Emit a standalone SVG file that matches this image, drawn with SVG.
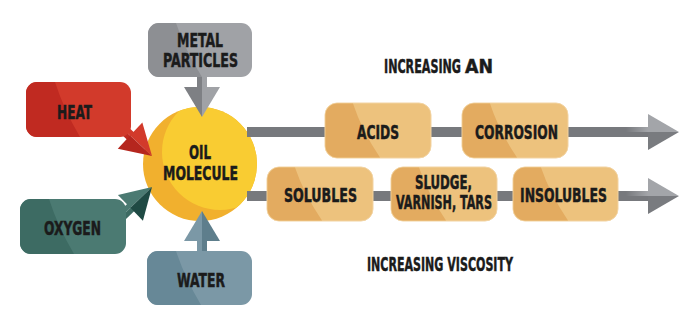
<svg xmlns="http://www.w3.org/2000/svg" width="700" height="328" viewBox="0 0 700 328">
<style>
text{font-family:"DejaVu Sans Condensed","Liberation Sans Narrow","Liberation Sans",sans-serif;font-weight:bold;fill:#1b1b1b;stroke:#1b1b1b;stroke-width:0.5;font-size:20px;text-anchor:middle}
.lbl{text-anchor:start}
.bar{fill:#77797d}
.hl{fill:#a3a5a9}
.hd{fill:#797b7f}
.gl{fill:#a0a2a6}.gd{fill:#8d8f93}.gdd{fill:#7e8084}
.rl{fill:#d23a2b}.rd{fill:#c02a21}.rdd{fill:#b5261e}
.tl{fill:#4b7a72}.td{fill:#3d6b63}.tdd{fill:#1f4a44}
.wl{fill:#7b98a6}.wd{fill:#678897}.wdd{fill:#5e7e8c}
.ol{fill:#edc27d;stroke:#f2d3a2;stroke-width:1}.od{fill:#e3ab60}
</style>
<defs>
<clipPath id="cc"><circle cx="200" cy="164" r="57"/></clipPath>
<linearGradient id="bg" x1="0" x2="1" y1="0" y2="0">
<stop offset="0" stop-color="#77797d"/><stop offset="1" stop-color="#a3a5a9"/>
</linearGradient>
</defs>

<g id="oil-molecule">
<circle cx="200" cy="164" r="57" fill="#f1b02e"/>
<circle cx="220" cy="152" r="58" fill="#f9cc32" clip-path="url(#cc)"/>
<text transform="translate(200,159) scale(0.66,1)" textLength="33.3" lengthAdjust="spacingAndGlyphs">OIL</text>
<text transform="translate(200.5,180) scale(0.77,1)" textLength="97.4" lengthAdjust="spacingAndGlyphs">MOLECULE</text>
</g>

<g id="connectors">
<rect class="bar" x="247" y="127" width="401" height="10"/>
<rect x="626" y="127" width="22" height="5" fill="url(#bg)"/>
<polygon class="hl" points="679,132 648,114 648,132"/>
<polygon class="hd" points="679,132 648,132 648,150"/>
<rect class="bar" x="247" y="191" width="401" height="10"/>
<rect x="626" y="191" width="22" height="5" fill="url(#bg)"/>
<polygon class="hl" points="679,196 648,178 648,196"/>
<polygon class="hd" points="679,196 648,196 648,214"/>

<g transform="translate(152,156) rotate(43)">
<rect class="rl" x="-46" y="-5" width="17" height="5"/>
<rect class="rd" x="-46" y="0" width="17" height="5"/>
<polygon class="rl" points="0,0 -30,-18 -30,0"/>
<polygon class="rdd" points="0,0 -30,0 -30,18"/>
</g>
<g transform="translate(152,187) rotate(-44)">
<rect class="tl" x="-46" y="-5" width="17" height="5"/>
<rect class="td" x="-46" y="0" width="17" height="5"/>
<polygon class="tl" points="0,0 -30,-18 -30,0"/>
<polygon class="tdd" points="0,0 -30,0 -30,18"/>
</g>
<g transform="translate(202,117) rotate(90)">
<rect class="gl" x="-50" y="-5" width="21" height="5"/>
<rect class="gdd" x="-50" y="0" width="21" height="5"/>
<polygon class="gl" points="0,0 -30,-18 -30,0"/>
<polygon class="gdd" points="0,0 -30,0 -30,18"/>
</g>
<g transform="translate(202,211) rotate(-90)">
<rect class="wl" x="-46" y="-5" width="17" height="5"/>
<rect class="wdd" x="-46" y="0" width="17" height="5"/>
<polygon class="wl" points="0,0 -30,-18 -30,0"/>
<polygon class="wdd" points="0,0 -30,0 -30,18"/>
</g>
</g>

<g id="metal-particles">
<rect class="gl" x="148" y="23" width="104" height="54" rx="11"/>
<path class="gd" d="M159,23 L176,23 Q185,50 202,77 L159,77 A11,11 0 0 1 148,66 L148,34 A11,11 0 0 1 159,23 Z"/>
<text transform="translate(200,47) scale(0.68,1)" textLength="67.6" lengthAdjust="spacingAndGlyphs">METAL</text>
<text transform="translate(200.5,67) scale(0.68,1)" textLength="110.3" lengthAdjust="spacingAndGlyphs">PARTICLES</text>
</g>

<g id="heat">
<rect class="rl" x="26" y="82" width="105" height="55" rx="11"/>
<path class="rd" d="M37,82 L55,82 Q64,110 80,137 L37,137 A11,11 0 0 1 26,126 L26,93 A11,11 0 0 1 37,82 Z"/>
<text transform="translate(74.5,119) scale(0.65,1)" textLength="53.8" lengthAdjust="spacingAndGlyphs">HEAT</text>
</g>

<g id="oxygen">
<rect class="tl" x="20" y="199" width="106" height="55" rx="11"/>
<path class="td" d="M31,199 L49,199 Q58,227 74,254 L31,254 A11,11 0 0 1 20,243 L20,210 A11,11 0 0 1 31,199 Z"/>
<text transform="translate(72.5,235) scale(0.68,1)" textLength="83.8" lengthAdjust="spacingAndGlyphs">OXYGEN</text>
</g>

<g id="water">
<rect class="wl" x="147" y="251" width="105" height="54" rx="11"/>
<path class="wd" d="M158,251 L176,251 Q185,278 201,305 L158,305 A11,11 0 0 1 147,294 L147,262 A11,11 0 0 1 158,251 Z"/>
<text transform="translate(201,287) scale(0.66,1)" textLength="72.7" lengthAdjust="spacingAndGlyphs">WATER</text>
</g>

<g id="acids">
<rect class="ol" x="325" y="103" width="106" height="55" rx="12"/>
<path class="od" d="M337,103.5 L353,103.5 Q362,131 380,157.5 L337,157.5 A12,12 0 0 1 325.5,146 L325.5,115 A12,12 0 0 1 337,103.5 Z"/>
<text transform="translate(378,139) scale(0.68,1)" textLength="61.8" lengthAdjust="spacingAndGlyphs">ACIDS</text>
</g>

<g id="corrosion">
<rect class="ol" x="462" y="103" width="106" height="55" rx="12"/>
<path class="od" d="M474,103.5 L490,103.5 Q499,131 517,157.5 L474,157.5 A12,12 0 0 1 462.5,146 L462.5,115 A12,12 0 0 1 474,103.5 Z"/>
<text transform="translate(516.5,139) scale(0.68,1)" textLength="122" lengthAdjust="spacingAndGlyphs">CORROSION</text>
</g>

<g id="solubles">
<rect class="ol" x="267" y="167" width="106" height="54" rx="12"/>
<path class="od" d="M279,167.5 L295,167.5 Q304,194 322,220.5 L279,220.5 A12,12 0 0 1 267.5,209 L267.5,179 A12,12 0 0 1 279,167.5 Z"/>
<text transform="translate(320.5,202) scale(0.7,1)" textLength="104.3" lengthAdjust="spacingAndGlyphs">SOLUBLES</text>
</g>

<g id="sludge">
<rect class="ol" x="391" y="167" width="106" height="54" rx="12"/>
<path class="od" d="M403,167.5 L419,167.5 Q428,194 446,220.5 L403,220.5 A12,12 0 0 1 391.5,209 L391.5,179 A12,12 0 0 1 403,167.5 Z"/>
<text transform="translate(443.5,189) scale(0.65,1)" font-size="19" textLength="87.7" lengthAdjust="spacingAndGlyphs">SLUDGE,</text>
<text transform="translate(444,208.5) scale(0.61,1)" font-size="19" textLength="157.4" lengthAdjust="spacingAndGlyphs">VARNISH, TARS</text>
</g>

<g id="insolubles">
<rect class="ol" x="513" y="167" width="105" height="54" rx="12"/>
<path class="od" d="M525,167.5 L541,167.5 Q550,194 568,220.5 L525,220.5 A12,12 0 0 1 513.5,209 L513.5,179 A12,12 0 0 1 525,167.5 Z"/>
<text transform="translate(563.5,202) scale(0.69,1)" textLength="126.1" lengthAdjust="spacingAndGlyphs">INSOLUBLES</text>
</g>

<g id="labels">
<text class="lbl" transform="translate(384,73) scale(0.62,1)" textLength="124.2" lengthAdjust="spacingAndGlyphs">INCREASING</text>
<text class="lbl" transform="translate(465,73) scale(0.67,1)" font-size="29" textLength="41.8" lengthAdjust="spacingAndGlyphs">AN</text>
<text class="lbl" transform="translate(367,271) scale(0.57,1)" textLength="256.1" lengthAdjust="spacingAndGlyphs">INCREASING VISCOSITY</text>
</g>
</svg>
